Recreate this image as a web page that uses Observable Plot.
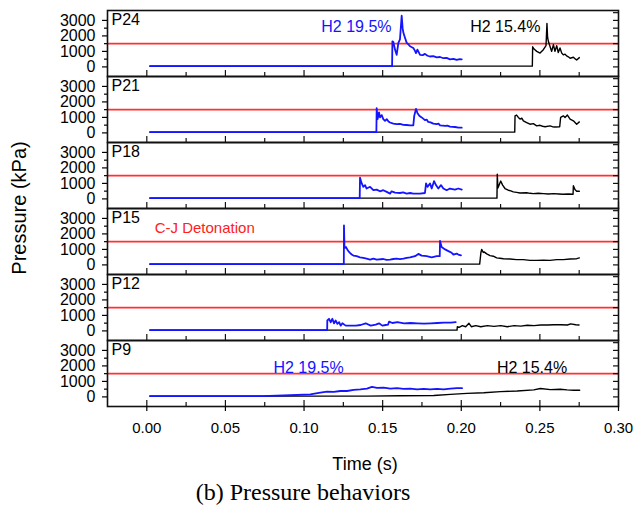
<!DOCTYPE html>
<html><head><meta charset="utf-8">
<script src="https://cdn.jsdelivr.net/npm/d3@7"></script>
<script src="https://cdn.jsdelivr.net/npm/@observablehq/plot@0.6"></script>
<style>
body{margin:0;background:#fff;font-family:Arial,"Liberation Sans",sans-serif;}
#wrap{position:relative;width:638px;height:508px;overflow:hidden;}
#chart{position:absolute;left:0;top:0;}
#ylabel{position:absolute;left:19px;top:208px;transform:translate(-50%,-50%) rotate(-90deg);white-space:nowrap;font-size:20px;color:#000;}
#xlabel{position:absolute;left:365px;top:464px;transform:translate(-50%,-50%);white-space:nowrap;font-size:18px;color:#000;}
#caption{position:absolute;left:303px;top:492px;transform:translate(-50%,-50%);white-space:nowrap;font-family:"Liberation Serif","Times New Roman",serif;font-size:24px;color:#000;}
</style>
</head><body>
<div id="wrap"><div id="chart"></div><div id="ylabel">Pressure (kPa)</div><div id="xlabel">Time (s)</div><div id="caption">(b) Pressure behaviors</div></div>
<script>
const sensors = ["P24","P21","P18","P15","P12","P9"];
const seriesNames = ["H2 19.5%","H2 15.4%"];
const seriesColors = ["#1414ff","#000000"];
const cjLevel = 1500;
const cjLabel = "C-J Detonation";
const yTicks = [0,1000,2000,3000];
const yMinorTicks = [500,1500,2500];
const yRightTicks = [0,500,1000,1500,2000,2500,3000,3500];
const xTicks = [0,0.05,0.10,0.15,0.20,0.25,0.30];
const xMinorTicks = [0.025,0.075,0.125,0.175,0.225,0.275];

// [time (s), pressure (kPa)]
const p24Blue = [[0.002,50],[0.156,50],[0.1562,1650],[0.1568,1610],[0.1579,1100],[0.1589,780],[0.1600,1550],[0.1610,1770],[0.1621,3300],[0.1627,2500],[0.1632,2200],[0.1642,1880],[0.1653,1550],[0.1664,1450],[0.1674,1330],[0.1695,1220],[0.1705,1050],[0.1712,890],[0.1721,1110],[0.1738,780],[0.1755,760],[0.1769,840],[0.1785,720],[0.1801,670],[0.1822,700],[0.1844,620],[0.1865,640],[0.1886,560],[0.1907,580],[0.1928,490],[0.1950,520],[0.1971,450],[0.1990,500],[0.2003,490]];
const p24Black = [[0.002,50],[0.2452,50],[0.2454,1300],[0.2463,1150],[0.2480,1000],[0.2501,890],[0.2522,1110],[0.2539,1370],[0.2545,2800],[0.2549,1900],[0.2554,1650],[0.2564,1330],[0.2575,1000],[0.2586,1440],[0.2596,1000],[0.2607,1370],[0.2617,930],[0.2628,1220],[0.2639,890],[0.2649,780],[0.2660,820],[0.2670,710],[0.2681,650],[0.2692,560],[0.2713,620],[0.2724,520],[0.2734,450],[0.2751,600]];
const p21Blue = [[0.002,50],[0.1460,50],[0.1462,1600],[0.1468,890],[0.1477,1330],[0.1483,1000],[0.1494,1150],[0.1504,890],[0.1515,780],[0.1526,890],[0.1537,740],[0.1547,670],[0.1568,600],[0.1589,560],[0.1610,580],[0.1632,520],[0.1653,510],[0.1674,490],[0.1695,490],[0.1701,1110],[0.1712,1550],[0.1721,1290],[0.1733,1110],[0.1748,1000],[0.1758,920],[0.1769,820],[0.1780,860],[0.1790,710],[0.1805,680],[0.1822,600],[0.1844,560],[0.1855,600],[0.1865,490],[0.1897,450],[0.1912,470],[0.1928,410],[0.1960,380],[0.1982,340],[0.2003,340]];
const p21Black = [[0.002,50],[0.2340,50],[0.2342,1100],[0.2352,1150],[0.2363,1000],[0.2374,890],[0.2385,950],[0.2395,780],[0.2416,670],[0.2437,560],[0.2458,600],[0.2480,450],[0.2501,490],[0.2517,430],[0.2533,400],[0.2564,450],[0.2580,400],[0.2596,380],[0.2626,400],[0.2632,1000],[0.2649,1100],[0.2660,1000],[0.2675,1150],[0.2692,890],[0.2713,780],[0.2734,560],[0.2751,710]];
const p18Blue = [[0.002,50],[0.1354,50],[0.1356,1370],[0.1367,1000],[0.1377,780],[0.1388,890],[0.1398,670],[0.1420,780],[0.1441,560],[0.1462,600],[0.1483,490],[0.1504,560],[0.1526,450],[0.1547,340],[0.1557,490],[0.1579,400],[0.1610,380],[0.1630,420],[0.1653,340],[0.1675,380],[0.1695,340],[0.1738,340],[0.1769,380],[0.1776,1000],[0.1786,780],[0.1801,1000],[0.1812,670],[0.1827,1150],[0.1839,890],[0.1854,670],[0.1871,890],[0.1886,670],[0.1907,560],[0.1928,670],[0.1960,600],[0.1981,670],[0.2003,600]];
const p18Black = [[0.002,50],[0.2227,50],[0.2229,1600],[0.2233,700],[0.2251,1150],[0.2263,890],[0.2278,670],[0.2299,560],[0.2315,520],[0.2331,450],[0.2352,420],[0.2374,380],[0.2416,400],[0.2437,360],[0.2458,340],[0.2490,360],[0.2522,340],[0.2555,320],[0.2586,340],[0.2620,320],[0.2649,300],[0.2680,320],[0.2711,300],[0.2713,850],[0.2723,600],[0.2734,490],[0.2751,490]];
const p15Blue = [[0.002,50],[0.1253,50],[0.1254,2550],[0.1257,1200],[0.1261,1100],[0.1267,1150],[0.1275,1000],[0.1282,890],[0.1292,780],[0.1303,670],[0.1314,600],[0.1335,560],[0.1356,490],[0.1377,450],[0.1398,400],[0.1420,340],[0.1441,400],[0.1462,340],[0.1504,380],[0.1525,320],[0.1547,340],[0.1568,380],[0.1589,400],[0.1610,370],[0.1632,400],[0.1653,450],[0.1674,490],[0.1706,560],[0.1727,710],[0.1748,600],[0.1780,560],[0.1812,490],[0.1844,560],[0.1863,560],[0.1865,1550],[0.1875,1150],[0.1897,1000],[0.1918,890],[0.1939,780],[0.1950,670],[0.1971,730],[0.1981,670],[0.1998,620]];
const p15Black = [[0.002,50],[0.2117,50],[0.2125,800],[0.2130,1000],[0.2140,800],[0.2145,840],[0.2162,710],[0.2183,600],[0.2204,560],[0.2225,450],[0.2246,430],[0.2268,400],[0.2310,380],[0.2352,340],[0.2395,340],[0.2437,290],[0.2480,290],[0.2522,310],[0.2564,290],[0.2607,340],[0.2649,340],[0.2692,380],[0.2734,400],[0.2751,450]];
const p12Blue = [[0.002,50],[0.1147,50],[0.1148,670],[0.1159,780],[0.1170,560],[0.1180,780],[0.1191,490],[0.1201,670],[0.1212,450],[0.1223,560],[0.1233,340],[0.1244,490],[0.1265,340],[0.1297,340],[0.1329,340],[0.1360,380],[0.1392,490],[0.1424,340],[0.1456,400],[0.1477,490],[0.1498,340],[0.1519,380],[0.1534,400],[0.1541,600],[0.1562,510],[0.1594,560],[0.1636,490],[0.1678,510],[0.1721,490],[0.1763,470],[0.1806,490],[0.1848,510],[0.1890,530],[0.1933,530],[0.1965,560]];
const p12Black = [[0.002,50],[0.1973,50],[0.1975,270],[0.1986,230],[0.2007,340],[0.2028,270],[0.2049,490],[0.2064,270],[0.2092,340],[0.2124,270],[0.2166,340],[0.2208,290],[0.2251,340],[0.2293,270],[0.2336,340],[0.2378,310],[0.2420,360],[0.2463,340],[0.2505,380],[0.2548,380],[0.2590,400],[0.2632,400],[0.2675,380],[0.2696,450],[0.2728,400],[0.2749,380]];
const p9Blue = [[0.002,50],[0.0733,50],[0.0870,90],[0.1040,160],[0.1104,270],[0.1146,340],[0.1189,320],[0.1231,380],[0.1273,380],[0.1316,450],[0.1358,490],[0.1400,540],[0.1432,650],[0.1464,580],[0.1506,600],[0.1549,540],[0.1591,560],[0.1634,520],[0.1676,540],[0.1719,490],[0.1761,520],[0.1803,490],[0.1846,520],[0.1888,490],[0.1931,540],[0.1973,560],[0.2005,560]];
const p9Black = [[0.002,50],[0.1104,50],[0.1401,50],[0.1613,70],[0.1825,90],[0.1931,160],[0.2037,230],[0.2143,270],[0.2249,340],[0.2355,380],[0.2461,450],[0.2503,540],[0.2567,470],[0.2630,490],[0.2673,450],[0.2715,430],[0.2753,430]];

const blueBySensor = {P24:p24Blue,P21:p21Blue,P18:p18Blue,P15:p15Blue,P12:p12Blue,P9:p9Blue};
const blackBySensor = {P24:p24Black,P21:p21Black,P18:p18Black,P15:p15Black,P12:p12Black,P9:p9Black};
const toRows = (bySensor, series) => sensors.flatMap(s => bySensor[s].map(([t,p]) => ({sensor:s, series, t, p})));
const blueRows = toRows(blueBySensor, seriesNames[0]);
const blackRows = toRows(blackBySensor, seriesNames[1]);

const W = 638, H = 472, mT = 10, mB = 66, mL = 107, mR = 20;
const panelH = (H - mT - mB) / sensors.length;
const plotW = W - mL - mR;

const chart = Plot.plot({
  width: W, height: H, marginTop: mT, marginBottom: mB, marginLeft: mL, marginRight: mR,
  style: {fontFamily: "Arial, 'Liberation Sans', sans-serif", fontSize: "15px", background: "#fff", color: "#000", overflow: "visible"},
  x: {domain: [-0.025, 0.30]},
  y: {domain: [-620, 3640]},
  fy: {domain: sensors, padding: 0, axis: null},
  color: {domain: seriesNames, range: seriesColors},
  marks: [
    Plot.ruleY([cjLevel], {stroke: "#ff3030", strokeWidth: 1.7}),
    Plot.line(blackRows, {x: "t", y: "p", fy: "sensor", stroke: "series", strokeWidth: 1.4}),
    Plot.line(blueRows, {x: "t", y: "p", fy: "sensor", stroke: "series", strokeWidth: 1.8}),
    Plot.frame({stroke: "#111", strokeWidth: 1.6}),
    Plot.tickX(xTicks, {x: d => d, stroke: "#111", strokeWidth: 1.2, insetTop: panelH - 6}),
    Plot.tickX(xMinorTicks, {x: d => d, stroke: "#111", strokeWidth: 1.2, insetTop: panelH - 4}),
    Plot.tickY(yRightTicks, {y: d => d, stroke: "#111", strokeWidth: 1.2, insetLeft: plotW - 5}),
    Plot.axisY(yTicks, {tickSize: 5, tickPadding: 7, fontSize: 16, strokeWidth: 1.2, tickFormat: d => String(d), label: null}),
    Plot.axisY(yMinorTicks, {tickSize: 3, strokeWidth: 1.2, tickFormat: () => "", label: null}),
    Plot.axisX(xTicks, {tickSize: 5, tickPadding: 11, fontSize: 15, strokeWidth: 1.2, tickFormat: d => d.toFixed(2), label: null}),
    Plot.text(sensors, {fy: d => d, text: d => d, frameAnchor: "top-left", dx: 4, dy: 3, lineAnchor: "top", textAnchor: "start", fontSize: 16}),
    Plot.text([seriesNames[0]], {fy: () => "P24", x: () => 0.1333, y: () => 2600, text: d => d, fill: seriesColors[0], fontSize: 16}),
    Plot.text([seriesNames[1]], {fy: () => "P24", x: () => 0.228, y: () => 2600, text: d => d, fill: seriesColors[1], fontSize: 16}),
    Plot.text([seriesNames[0]], {fy: () => "P9", x: () => 0.1029, y: () => 1870, text: d => d, fill: seriesColors[0], fontSize: 16}),
    Plot.text([seriesNames[1]], {fy: () => "P9", x: () => 0.245, y: () => 1870, text: d => d, fill: seriesColors[1], fontSize: 16}),
    Plot.text([cjLabel], {fy: () => "P15", x: () => 0.005, y: () => 2350, text: d => d, fill: "#ff2020", textAnchor: "start", fontSize: 15})
  ]
});
document.getElementById("chart").appendChild(chart);
</script>
</body></html>
